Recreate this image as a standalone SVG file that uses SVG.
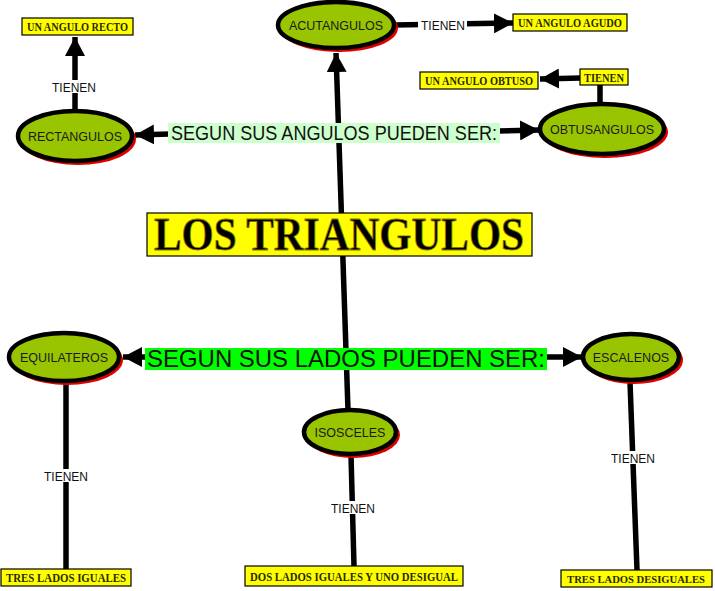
<svg xmlns="http://www.w3.org/2000/svg" width="715" height="591" viewBox="0 0 715 591">
<style>
.sh{fill:#e00000}
.el{fill:#99c400;stroke:#000;stroke-width:4.5}
.nt{font-family:"Liberation Sans",Arial,sans-serif;font-size:12.5px;fill:#1a1a1a;text-anchor:middle}
.ln{stroke:#000;stroke-width:5.5;fill:none}
.tn{font-family:"Liberation Sans",Arial,sans-serif;font-size:12px;fill:#111;text-anchor:middle}
.yb{fill:#ffff00;stroke:#000;stroke-width:1.2}
.yt{font-family:"Liberation Serif","DejaVu Serif",serif;font-weight:bold;font-size:12px;fill:#2a2a00;text-anchor:middle}
</style>
<defs>
<marker id="ah" markerUnits="userSpaceOnUse" markerWidth="20" markerHeight="20" refX="19" refY="10" orient="auto">
<path d="M0,0 L19,10 L0,20 z" fill="#000"/>
</marker>
</defs>
<rect width="715" height="591" fill="#fff"/>
<g id="connectors">
<line class="ln" x1="348" y1="410" x2="336" y2="53" marker-end="url(#ah)"/>
<line class="ln" x1="170" y1="134" x2="135" y2="135" marker-end="url(#ah)"/>
<line class="ln" x1="498" y1="131" x2="539" y2="130" marker-end="url(#ah)"/>
<line class="ln" x1="75" y1="112" x2="75" y2="37" marker-end="url(#ah)"/>
<rect x="50" y="80" width="48" height="13" fill="#fff"/>
<text class="tn" x="74" y="92">TIENEN</text>
<line class="ln" x1="394" y1="25" x2="513" y2="23" marker-end="url(#ah)"/>
<rect x="418" y="18" width="49" height="14" fill="#fff"/>
<text class="tn" x="443" y="30">TIENEN</text>
<line class="ln" x1="600" y1="104" x2="600" y2="85"/>
<line class="ln" x1="581" y1="78" x2="540" y2="79" marker-end="url(#ah)"/>
<line class="ln" x1="147" y1="357" x2="123" y2="357" marker-end="url(#ah)"/>
<line class="ln" x1="545" y1="357" x2="582" y2="357" marker-end="url(#ah)"/>
<line class="ln" x1="66" y1="383" x2="66" y2="569"/>
<rect x="42" y="469" width="48" height="13" fill="#fff"/>
<text class="tn" x="66" y="481">TIENEN</text>
<line class="ln" x1="351" y1="455" x2="354" y2="566"/>
<rect x="329" y="501" width="48" height="13" fill="#fff"/>
<text class="tn" x="353" y="513">TIENEN</text>
<line class="ln" x1="630" y1="382" x2="637" y2="570"/>
<rect x="609" y="451" width="48" height="13" fill="#fff"/>
<text class="tn" x="633" y="463">TIENEN</text>
</g>
<g id="title">
<rect class="yb" x="147" y="213" width="385" height="43" stroke-width="1.5"/>
<text x="339" y="250" font-family="'Liberation Serif',serif" font-weight="bold" font-size="46" fill="#000" stroke="#8a7a00" stroke-width="0.8" text-anchor="middle" textLength="370" lengthAdjust="spacingAndGlyphs">LOS TRIANGULOS</text>
</g>
<g id="label-angulos">
<rect x="168" y="123" width="332" height="20" fill="#ccffcc"/>
<text x="334" y="140" font-family="'Liberation Sans',Arial,sans-serif" font-size="20" fill="#111" text-anchor="middle" textLength="326" lengthAdjust="spacingAndGlyphs">SEGUN SUS ANGULOS PUEDEN SER:</text>
</g>
<g id="label-lados">
<rect x="145" y="348" width="402" height="22" fill="#00ff00"/>
<text x="346" y="367" font-family="'Liberation Sans',Arial,sans-serif" font-size="24" fill="#111" text-anchor="middle" textLength="398" lengthAdjust="spacingAndGlyphs">SEGUN SUS LADOS PUEDEN SER:</text>
</g>
<g id="rectangulos">
<ellipse class="sh" cx="78" cy="139" rx="58" ry="26"/>
<ellipse class="el" cx="75" cy="136" rx="57" ry="25"/>
<text class="nt" x="75" y="141">RECTANGULOS</text>
</g>
<g id="acutangulos">
<ellipse class="sh" cx="339" cy="28" rx="59" ry="24"/>
<ellipse class="el" cx="336" cy="25" rx="58" ry="23"/>
<text class="nt" x="336" y="30">ACUTANGULOS</text>
</g>
<g id="obtusangulos">
<ellipse class="sh" cx="605" cy="132" rx="63" ry="26"/>
<ellipse class="el" cx="602" cy="129" rx="62" ry="25"/>
<text class="nt" x="602" y="134">OBTUSANGULOS</text>
</g>
<g id="equilateros">
<ellipse class="sh" cx="67" cy="360" rx="56" ry="25"/>
<ellipse class="el" cx="64" cy="357" rx="55" ry="24"/>
<text class="nt" x="64" y="362">EQUILATEROS</text>
</g>
<g id="escalenos">
<ellipse class="sh" cx="634" cy="360" rx="49" ry="24"/>
<ellipse class="el" cx="631" cy="357" rx="48" ry="23"/>
<text class="nt" x="631" y="362">ESCALENOS</text>
</g>
<g id="isosceles">
<ellipse class="sh" cx="353" cy="435" rx="47" ry="23"/>
<ellipse class="el" cx="350" cy="432" rx="46" ry="22"/>
<text class="nt" x="350" y="437">ISOSCELES</text>
</g>
<g id="un-angulo-recto">
<rect class="yb" x="22" y="18" width="111" height="17"/>
<text class="yt" x="77.5" y="31" textLength="101" lengthAdjust="spacingAndGlyphs">UN ANGULO RECTO</text>
</g>
<g id="un-angulo-agudo">
<rect class="yb" x="513" y="14" width="114" height="17"/>
<text class="yt" x="570" y="27" textLength="104" lengthAdjust="spacingAndGlyphs">UN ANGULO AGUDO</text>
</g>
<g id="tienen-obtuso">
<rect class="yb" x="580" y="69" width="48" height="16"/>
<text class="yt" x="604" y="81.5" textLength="40" lengthAdjust="spacingAndGlyphs">TIENEN</text>
</g>
<g id="un-angulo-obtuso">
<rect class="yb" x="420" y="72" width="118" height="17"/>
<text class="yt" x="479" y="85" textLength="108" lengthAdjust="spacingAndGlyphs">UN ANGULO OBTUSO</text>
</g>
<g id="tres-lados-iguales">
<rect class="yb" x="1" y="569" width="130" height="17"/>
<text class="yt" x="66" y="582" textLength="120" lengthAdjust="spacingAndGlyphs">TRES LADOS IGUALES</text>
</g>
<g id="dos-lados">
<rect class="yb" x="245" y="566" width="218" height="20"/>
<text class="yt" x="354" y="581" textLength="208" lengthAdjust="spacingAndGlyphs">DOS LADOS IGUALES Y UNO DESIGUAL</text>
</g>
<g id="tres-lados-desiguales">
<rect class="yb" x="561" y="570" width="151" height="17"/>
<text class="yt" x="636" y="582.5" style="font-size:10.6px">TRES LADOS DESIGUALES</text>
</g>
</svg>
